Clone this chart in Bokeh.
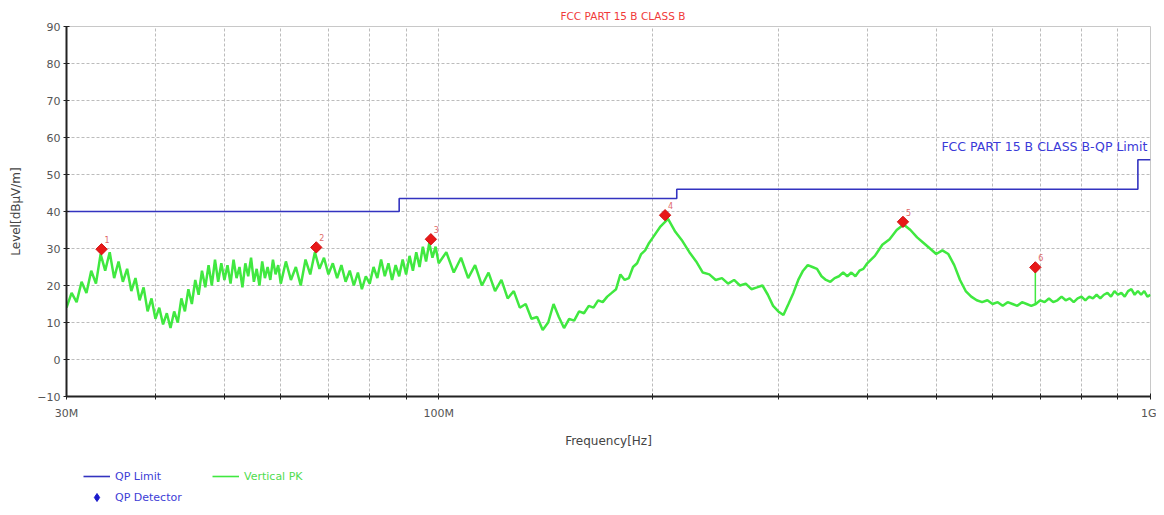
import math
from bokeh.plotting import figure
from bokeh.layouts import column
from bokeh.models import Range1d, FixedTicker, Legend, LegendItem, Label, ColumnDataSource
from bokeh.embed import file_html
from bokeh.resources import INLINE
from bokeh.core.properties import value

FONT = "DejaVu Sans"

title_text = "FCC PART 15 B CLASS B"
limit_text = "FCC PART 15 B CLASS B-QP Limit"
x_label = "Frequency[Hz]"
y_label = "Level[dBµV/m]"
legend_names = ["QP Limit", "Vertical PK", "QP Detector"]

# QP limit (step breakpoints)
limit_freq_mhz = [30, 88, 216, 960, 1000]
limit_level = [40.0, 43.5, 46.0, 54.0, 54.0]

# Vertical PK trace
pk_freq_mhz = [
    30.0, 30.5, 31.0, 31.5, 32.0, 32.5, 33.0, 33.5, 34.0, 34.5,
    35.0, 35.5, 36.0, 36.5, 37.0, 37.5, 38.0, 38.5, 39.0, 39.5,
    40.0, 40.5, 41.0, 41.5, 42.0, 42.5, 43.0, 43.5, 44.0, 44.5,
    45.0, 45.5, 46.0, 46.5, 47.0, 47.5, 48.0, 48.5, 49.0, 49.5,
    50.0, 50.5, 51.0, 51.5, 52.0, 52.5, 53.0, 53.5, 54.0, 54.5,
    55.0, 55.5, 56.0, 56.5, 57.0, 57.5, 58.0, 58.5, 59.0, 59.5,
    60.0, 61, 62, 63, 64, 65, 66, 67, 68, 69,
    70, 71, 72, 73, 74, 75, 76, 77, 78, 79,
    80, 81, 82, 83, 84, 85, 86, 87, 88, 89,
    90, 91, 92, 93, 94, 95, 96, 97, 98, 99,
    100, 102.5, 105, 107.5, 110, 112.5, 115, 117.5, 120, 122.5,
    125, 127.5, 130, 132.5, 135, 137.5, 140, 142.5, 145, 147.5,
    150, 152.5, 155, 157.5, 160, 162.5, 165, 167.5, 170, 172.5,
    175, 177.5, 180, 182.5, 185, 187.5, 190, 192.5, 195, 197.5,
    200, 205, 210, 215, 220, 225, 230, 235, 240, 245,
    250, 255, 260, 265, 270, 275, 280, 285, 290, 295,
    300, 305, 310, 315, 320, 325, 330, 335, 340, 345,
    350, 355, 360, 365, 370, 375, 380, 385, 390, 395,
    400, 410, 420, 430, 440, 450, 460, 470, 480, 490,
    500, 510, 520, 530, 540, 550, 560, 570, 580, 590,
    600, 610, 620, 630, 640, 650, 660, 670, 680, 690,
    700, 710, 720, 730, 740, 750, 760, 770, 780, 790,
    800, 810, 820, 830, 840, 850, 860, 870, 880, 890,
    900, 910, 920, 930, 940, 950, 960, 970, 980, 990,
    1000,
]
pk_level = [
    14, 18, 15.5, 21, 18, 24, 20.5, 28.5, 24, 29,
    22, 26.5, 21, 24.5, 18.5, 22, 16, 19.5, 13, 16.5,
    11, 14, 9.5, 12.5, 8.5, 13, 10, 16.5, 13, 19,
    15, 21.5, 17.5, 24, 19.5, 25.5, 20, 27, 21, 26,
    21.5, 25.5, 20.5, 27, 22, 25, 19.5, 26, 22.5, 27.5,
    21, 24.5, 20, 26.5, 22, 25, 21.5, 27, 23, 25.5,
    20.5, 26.5, 21.5, 25, 20, 27, 23, 29, 24.5, 27.5,
    23, 26, 22, 25.5, 21, 24, 20, 23.5, 19, 22.5,
    20.5, 25, 22, 27, 22.5, 26, 21.5, 25.5, 22.5, 27,
    23, 28, 24, 29, 25, 30.5, 26.5, 31.5, 27.5, 30.5,
    26, 29, 23.5, 27.5, 22, 25.5, 20, 23.5, 18.5, 21.5,
    16.5, 18.5, 14, 15, 11, 11.5, 8, 10, 15, 11.5,
    8.5, 11, 10.5, 13, 12.5, 14.5, 14, 16, 15.5, 17,
    18, 19, 23, 21.5, 22, 25, 26, 28.5, 29.5, 31.5,
    33, 36, 38, 34.5, 32, 29, 26.5, 23.5, 23, 21.5,
    22, 20.5, 21.5, 20, 20.5, 19, 19.5, 20, 17.5, 14.5,
    13, 12, 15, 18, 21.5, 24, 25.5, 25, 24.5, 22.5,
    21.5, 21, 22, 22.5, 23.5, 22.5, 23.5, 22.5, 24, 24.5,
    26, 28, 31, 32.5, 35, 36.5, 35, 33, 31.5, 30,
    28.5, 29.5, 28.5, 25.5, 21.5, 18.5, 17, 16, 15.5, 16,
    15, 15.5, 14.5, 15.5, 15, 14.5, 15.5, 15, 14.5, 15,
    16, 15.5, 16.5, 15.5, 16, 17, 16, 16.5, 15.5, 16.5,
    17, 16, 17, 16.5, 17.5, 16.5, 17.5, 18, 17, 18.5,
    17.5, 18, 17, 18.5, 19, 17.5, 18.5, 17.5, 18.5, 17,
    17.5,
]

# QP detector points
qp_freq_mhz = [33.6, 67.3, 97.5, 208.0, 449.0, 689.0]
qp_level = [29.8, 30.3, 32.5, 39.0, 37.2, 24.9]
qp_labels = ["1", "2", "3", "4", "5", "6"]

# vertical spike under marker 6
spike_freq_mhz = [689.0]
spike_low = [15.0]
spike_high = [24.9]

x_ticks_mhz = [30, 40, 50, 60, 70, 80, 90, 100, 200, 300, 400, 500, 600, 700, 800, 900, 1000]
x_tick_names = {30: "30M", 100: "100M", 1000: "1G"}
y_ticks = [-10, 0, 10, 20, 30, 40, 50, 60, 70, 80, 90]

MHZ = 1e6
BLUE = "#3333c0"
GREEN = "#40e840"

p = figure(width=1156, height=450, x_axis_type="log",
           x_range=Range1d(30 * MHZ, 1000 * MHZ), y_range=Range1d(-10, 90),
           output_backend="svg", toolbar_location=None,
           min_border_left=66, min_border_right=6, min_border_top=26, min_border_bottom=50)
p.background_fill_color = "white"
p.outline_line_color = "#c8c8c8"

p.title.text = title_text
p.title.align = "left"
p.title.offset = 494
p.title.text_font = FONT
p.title.text_font_size = "10.5px"
p.title.text_font_style = "normal"
p.title.text_color = "#f03a3a"

# axes
xt = [f * MHZ for f in x_ticks_mhz]
p.xaxis.ticker = FixedTicker(ticks=xt)
p.xaxis.major_label_overrides = {f * MHZ: x_tick_names.get(f, "") for f in x_ticks_mhz}
p.yaxis.ticker = FixedTicker(ticks=y_ticks)
for ax in (p.xaxis, p.yaxis):
    ax.axis_line_color = "#222222"
    ax.axis_line_width = 2
    ax.major_tick_line_color = "#222222"
    ax.major_tick_in = 3
    ax.major_tick_out = 3
    ax.minor_tick_line_color = None
    ax.major_label_text_font = FONT
    ax.major_label_text_font_size = "11px"
    ax.major_label_text_color = "#555555"
    ax.axis_label_text_font = FONT
    ax.axis_label_text_font_size = "12px"
    ax.axis_label_text_font_style = "normal"
    ax.axis_label_text_color = "#444444"
p.xaxis.axis_label = x_label
p.yaxis.axis_label = y_label
p.xaxis.major_label_standoff = 7
p.xaxis.axis_label_standoff = 11
p.yaxis.major_label_standoff = 3
p.yaxis.axis_label_standoff = 11

for g in (p.xgrid, p.ygrid):
    g.grid_line_color = "#bcbcbc"
    g.grid_line_dash = "3 2"
    g.grid_line_width = 1

# data
pk_src = ColumnDataSource(dict(x=[f * MHZ for f in pk_freq_mhz], y=pk_level))
p.line("x", "y", source=pk_src, line_color=GREEN, line_width=2.5)

p.segment(x0=[f * MHZ for f in spike_freq_mhz], y0=spike_low,
          x1=[f * MHZ for f in spike_freq_mhz], y1=spike_high,
          line_color=GREEN, line_width=1.5)

p.step(x=[f * MHZ for f in limit_freq_mhz], y=limit_level, mode="after",
       line_color=BLUE, line_width=1.6)

qp_src = ColumnDataSource(dict(x=[f * MHZ for f in qp_freq_mhz], y=qp_level, t=qp_labels))
p.scatter("x", "y", source=qp_src, marker="square", angle=math.pi / 4, size=8,
          fill_color="#e81818", line_color="#d01010")
p.text("x", "y", text="t", source=qp_src, text_font=value(FONT), text_font_size="8px",
       text_color="#e06a6a", x_offset=3, y_offset=-6, text_baseline="bottom", text_align="left")

p.add_layout(Label(x=990 * MHZ, y=57.6, text=limit_text, text_align="right", text_baseline="middle",
                   text_font=FONT, text_font_size="12.5px", text_color="#3a3ad8"))

# legend strip below the chart (its frame is aligned with the chart frame)
lf = figure(width=1156, height=57, x_range=Range1d(0, 1), y_range=Range1d(0, 1),
            output_backend="svg", toolbar_location=None,
            x_axis_location=None, y_axis_location=None, min_border=0)
lf.outline_line_color = None
lf.xgrid.visible = False
lf.ygrid.visible = False
# swatch renderers kept outside the visible range, used only by the legend
r_lim = lf.line(x=[5, 6], y=[5, 6], line_color=BLUE, line_width=1.6)
r_pk = lf.line(x=[5, 6], y=[5, 6], line_color=GREEN, line_width=1.6)
r_qp = lf.scatter(x=[5], y=[5], marker="diamond", fill_color="#1a1acc", line_color="#1a1acc")

common = dict(orientation="vertical", padding=0, spacing=1, margin=0,
              glyph_width=27, glyph_height=20, label_height=20, label_standoff=5,
              label_text_font=FONT, label_text_font_size="11px",
              border_line_alpha=0, background_fill_alpha=0)
leg1 = Legend(items=[LegendItem(label=legend_names[0], renderers=[r_lim]),
                     LegendItem(label=legend_names[2], renderers=[r_qp])],
              location=(17, 0), label_text_color="#3d3dd6", **common)
leg2 = Legend(items=[LegendItem(label=legend_names[1], renderers=[r_pk])],
              location=(146, 21), label_text_color="#4fdc4f", **common)
lf.add_layout(leg1)
lf.add_layout(leg2)

open("out.html", "w").write(file_html(column(p, lf), INLINE))
